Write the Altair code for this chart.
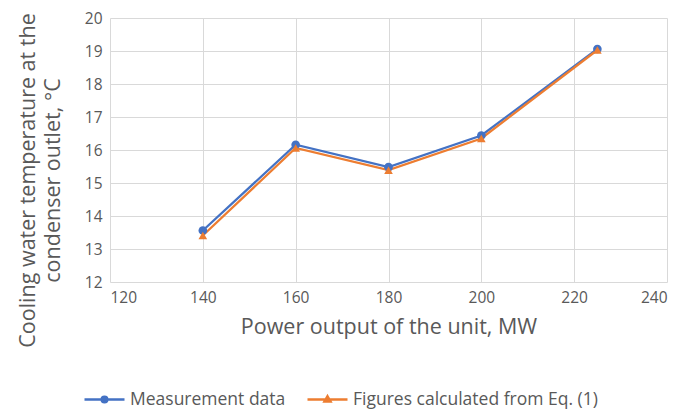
import altair as alt
import pandas as pd

power = [140, 160, 180, 200, 225]
measured = [13.56, 16.16, 15.48, 16.44, 19.06]
calculated = [13.41, 16.06, 15.39, 16.35, 19.03]
series_names = ["Measurement data", "Figures calculated from Eq. (1)"]
colors = ["#4472C4", "#ED7D31"]
x_ticks = [120, 140, 160, 180, 200, 220, 240]
y_ticks = [12, 13, 14, 15, 16, 17, 18, 19, 20]

rows = []
for p, m, c in zip(power, measured, calculated):
    rows.append({"power": p, "temp": m, "series": series_names[0]})
    rows.append({"power": p, "temp": c, "series": series_names[1]})
df = pd.DataFrame(rows)

FONT = "Open Sans"
GREY = "#595959"

x_enc = alt.X("power:Q", scale=alt.Scale(domain=[120, 240], nice=False),
              axis=alt.Axis(values=x_ticks, title="Power output of the unit, MW",
                            grid=True, gridColor="#D9D9D9", domain=False, ticks=False,
                            labelFontSize=15.5, labelColor=GREY, labelPadding=8,
                            labelOverlap=False,
                            titleFontSize=21.5, titleColor=GREY, titleFontWeight="normal",
                            titlePadding=11, labelFont=FONT, titleFont=FONT))
y_enc = alt.Y("temp:Q", scale=alt.Scale(domain=[12, 20], nice=False, zero=False),
              axis=alt.Axis(values=y_ticks,
                            title=["Cooling water temperature at the", "condenser outlet, °C"],
                            grid=True, gridColor="#D9D9D9", domain=False, ticks=False,
                            labelFontSize=15.5, labelColor=GREY, labelPadding=8,
                            labelOverlap=False, titleY=162, titleLineHeight=25,
                            titleFontSize=21.5, titleColor=GREY, titleFontWeight="normal",
                            titlePadding=20, labelFont=FONT, titleFont=FONT))

color_scale = alt.Scale(domain=series_names, range=colors)

lines = alt.Chart(df).mark_line(strokeWidth=2.25).encode(
    x=x_enc, y=y_enc,
    color=alt.Color("series:N", scale=color_scale, legend=None),
    detail="series:N",
)

points = alt.Chart(df).mark_point(filled=True, opacity=1).encode(
    x=x_enc, y=y_enc,
    color=alt.Color("series:N", scale=color_scale, legend=None),
    shape=alt.Shape("series:N", scale=alt.Scale(domain=series_names, range=["circle", "triangle-up"]), legend=None),
    size=alt.value(75),
)

circle_path = "M-1,0H1M-0.14,0A0.14,0.14 0 1,0 0.14,0A0.14,0.14 0 1,0 -0.14,0Z"
tri_path = "M-1,0H1M0,-0.16L0.15,0.1L-0.15,0.1Z"

legend_layer = alt.Chart(df).mark_point(filled=True, opacity=0).encode(
    x=x_enc, y=y_enc,
    fill=alt.Fill("series:N", scale=alt.Scale(domain=series_names, range=colors), title=None),
    stroke=alt.Stroke("series:N", scale=alt.Scale(domain=series_names, range=colors), title=None),
    shape=alt.Shape("series:N", scale=alt.Scale(domain=series_names, range=[circle_path, tri_path]), title=None),
)

chart = alt.layer(lines, points, legend_layer).resolve_scale(
    color="independent", shape="independent", fill="independent", stroke="independent"
).resolve_legend(
    color="independent", shape="independent", fill="independent", stroke="independent"
).properties(
    width=557, height=264,
    autosize=alt.AutoSizeParams(type="none"),
    padding={"left": 102, "top": 10, "right": 10, "bottom": 128},
).configure_view(stroke=None).configure_legend(
    orient="none", legendX=-27, legendY=360, direction="horizontal",
    columns=2, columnPadding=16, symbolSize=1600, symbolStrokeWidth=2.5,
    symbolOpacity=1, labelFontSize=17.5, labelColor=GREY, labelFont=FONT,
    labelOffset=4, labelLimit=400,
)

chart.save("out.html", embed_options={"renderer": "svg", "actions": False})
